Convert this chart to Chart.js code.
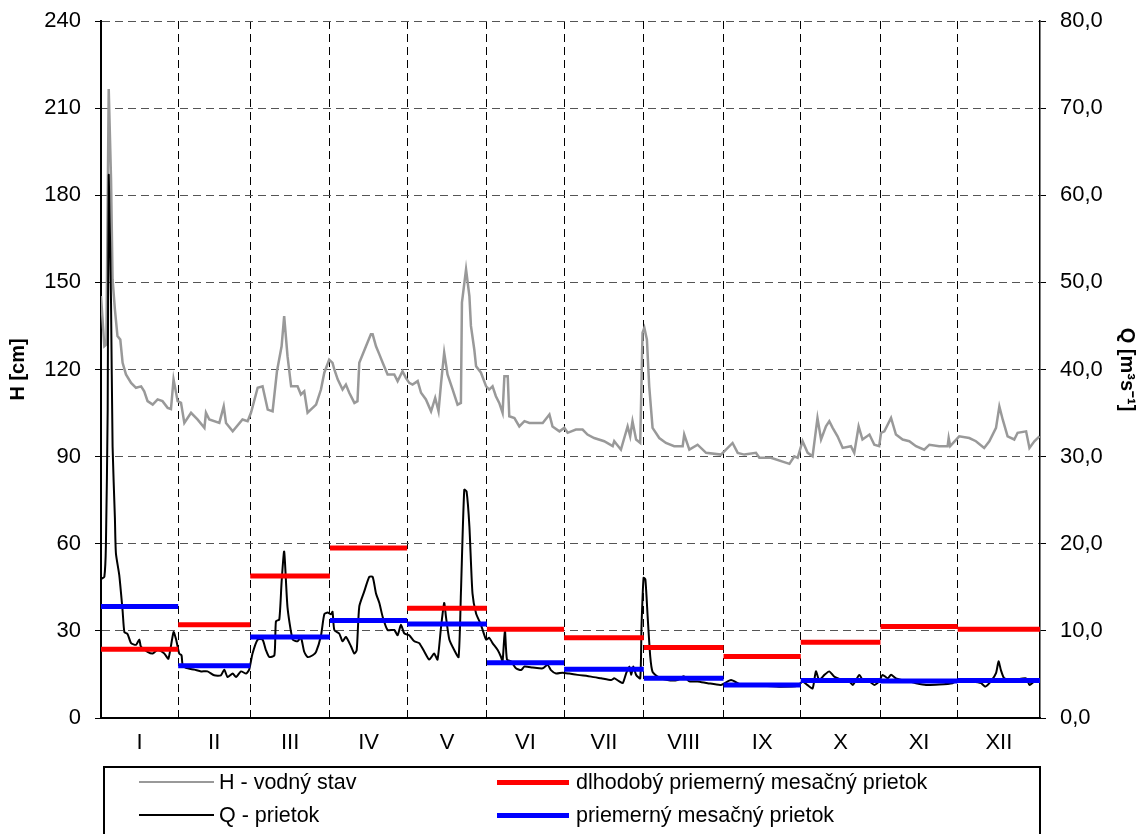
<!DOCTYPE html>
<html>
<head>
<meta charset="utf-8">
<script src="https://cdn.jsdelivr.net/npm/chart.js@4.4.1/dist/chart.umd.min.js"></script>
<style>
html, body { margin: 0; padding: 0; background: #fff; }
#wrap { position: relative; width: 1147px; height: 834px; overflow: hidden; }
#legend {
    position: absolute; left: 103px; top: 766px; width: 938px; height: 100px;
    border: 2px solid #000; box-sizing: border-box;
    font-family: 'Liberation Sans', Arial, sans-serif; font-size: 21.5px; color: #000;
}
#legend .item { position: absolute; height: 28px; display: flex; align-items: center; white-space: nowrap; }
#legend .ln { display: inline-block; }
</style>
</head>
<body>
<div id="wrap">
    <canvas id="chart" width="1147" height="834"></canvas>
    <div id="legend">
        <div class="item" style="left:34px;top:0px"><span class="ln" style="width:75px;border-top:2px solid #999;margin-right:5px"></span>H - vodný stav</div>
        <div class="item" style="left:34px;top:33px"><span class="ln" style="width:75px;border-top:2px solid #000;margin-right:5px"></span>Q - prietok</div>
        <div class="item" style="left:392px;top:0px"><span class="ln" style="width:72px;border-top:5px solid #ff0000;margin-right:7px"></span>dlhodobý priemerný mesačný prietok</div>
        <div class="item" style="left:392px;top:33px"><span class="ln" style="width:72px;border-top:5px solid #0000ff;margin-right:7px"></span>priemerný mesačný prietok</div>
    </div>
</div>
<script>
// months and their boundaries (day of year)
const months = ["I", "II", "III", "IV", "V", "VI", "VII", "VIII", "IX", "X", "XI", "XII"];
const monthBounds = [1, 31, 59, 90, 120, 151, 181, 212, 243, 273, 304, 334, 366];

// H - vodný stav [cm]
const hDays = [1.0,2.3,3.1,4.0,4.9,5.5,6.4,7.4,8.5,9.4,
    10.7,12.7,14.6,16.6,17.8,19.1,21.1,23.0,24.9,26.9,
    28.2,29.2,30.8,32.1,33.4,36.0,38.5,41.2,41.8,43.1,
    47.0,48.7,49.6,52.2,56.0,58.0,59.3,61.9,63.8,65.8,
    67.7,69.4,71.2,72.2,73.5,74.9,77.4,78.7,80.0,81.3,
    84.6,86.5,87.8,89.7,91.0,91.7,93.0,94.9,96.2,97.5,
    99.5,100.7,101.4,104.0,105.9,106.6,107.9,109.2,110.5,112.4,
    115.0,116.3,118.2,119.5,120.8,122.1,124.1,125.4,127.3,129.3,
    130.9,132.2,133.2,134.4,135.7,137.7,139.6,140.9,141.3,142.9,
    144.2,144.8,146.1,146.8,148.7,150.7,151.9,153.2,154.5,155.8,
    157.1,157.8,159.1,159.7,161.7,163.6,165.6,167.5,172.7,175.3,
    176.5,179.2,181.1,182.4,185.6,188.2,190.1,192.7,196.6,199.9,
    200.5,203.1,205.7,206.7,207.6,209.0,210.6,211.5,212.2,213.2,
    214.1,215.4,218.0,220.6,223.8,227.1,227.7,229.7,232.9,236.2,
    242.0,246.5,248.5,251.1,255.6,256.9,261.4,268.6,270.5,271.8,
    273.7,275.7,277.6,279.5,280.9,282.8,284.1,285.4,287.3,289.3,
    292.5,293.8,295.5,297.0,299.7,301.6,303.5,304.2,305.5,308.1,
    310.0,312.6,315.2,317.8,321.0,323.0,326.8,330.1,330.5,331.1,
    334.6,338.5,341.1,344.3,346.3,348.9,350.2,351.5,353.4,356.0,
    357.3,360.6,361.9,363.8,365.8];
const hValues = [145.3,128,128.6,216.6,185.5,151,140.7,131.5,130.3,122.3,
    118.3,115.4,113.7,114.2,112.5,109.1,107.9,109.7,109.1,106.8,
    106.4,116.6,109.1,108.5,101.6,105.1,102.8,99.9,105.1,102.8,
    101.6,107.3,101.6,98.7,102.8,102.2,105.1,113.7,114.2,106.2,
    105.6,119.4,128.0,138.4,124.6,114.2,114.2,111.4,112.5,105.1,
    107.9,113.1,118.9,123.4,122.3,120,116.6,113.1,114.8,112.0,
    108.5,109.1,122.3,128.0,132.1,132.1,128.0,125.2,122.3,118.3,
    118.3,116.0,119.4,117.1,115.4,114.8,116.0,112.0,109.7,105.6,
    110.2,105.6,115.4,125.8,118.3,113.1,107.9,108.5,143.0,154.5,
    145.3,135.0,126.9,121.1,118.9,114.2,113.1,114.2,110.8,108.5,
    105.1,117.7,117.7,103.9,103.3,100.4,102.2,101.6,101.6,104.5,
    100.4,98.7,99.9,98.2,99.3,99.3,97.6,96.4,95.3,93.6,
    95.3,92.4,100.4,97.0,102.2,95.9,94.7,132.7,134.4,130.3,
    114.2,99.9,96.4,94.7,93.6,93.6,97.6,92.4,94.1,91.3,
    90.7,94.7,91.3,90.7,91.3,89.6,89.6,87.5,90.1,89.6,
    95.3,91.3,90.1,103.3,95.9,100.4,102.2,99.9,97.0,93.0,
    93.6,91.3,100.4,95.9,97.6,94.1,93.6,98.2,98.7,103.3,
    97.6,95.9,95.3,93.6,92.4,94.1,93.6,93.6,96.4,93.6,
    97.0,96.4,95.3,93.0,95.3,99.9,107.3,102.8,97.0,95.9,
    98.2,98.7,93.0,95.3,97.0];

// Q - prietok [m3/s]
const qDays = [1.2,2.3,2.9,3.6,4.0,4.9,5.5,6.4,6.8,8.1,
    9.4,10.1,11.3,12.7,14.6,15.9,16.5,19.1,21.1,23.0,
    25.6,27.2,29.2,30.2,31.4,32.3,32.7,34.0,37.3,39.9,
    42.4,45.0,47.6,48.9,50.2,52.2,53.5,55.4,57.4,58.6,
    59.9,61.9,63.8,65.1,66.4,68.4,69.0,70.3,71.2,72.2,
    73.5,75.5,77.4,78.7,80.0,81.3,83.3,84.6,86.5,87.8,
    89.1,90.4,91.0,91.7,93.6,94.9,96.2,98.2,99.5,100.4,
    101.4,103.3,105.3,106.6,107.9,109.2,110.5,112.4,115.0,116.3,
    117.6,118.9,120.8,122.8,124.7,126.7,128.6,130.5,131.8,133.2,
    134.4,135.1,136.4,138.3,140.0,140.9,142.2,143.1,144.2,145.4,
    146.8,148.7,150.7,151.9,153.2,155.2,156.5,157.1,158.0,158.8,
    160.4,162.3,164.3,165.6,168.8,172.7,174.6,175.9,177.9,180.4,
    183.0,186.3,191.5,195.4,199.3,200.5,202.5,203.8,205.1,206.4,
    207.1,207.9,209.0,210.6,211.1,211.9,212.6,213.5,214.5,215.4,
    217.4,221.2,225.1,227.5,229.7,232.9,236.8,242.0,245.9,249.8,
    253.7,258.8,265.3,271.8,273.7,275.5,277.6,278.9,280.2,282.2,
    284.1,286.0,289.3,291.9,293.2,295.8,297.1,299.7,301.6,303.5,
    304.8,306.8,308.1,310.0,312.6,317.8,321.7,326.8,332.0,334.6,
    339.8,343.1,344.7,346.9,348.9,349.9,350.8,352.1,355.4,360.6,
    361.9,363.8,365.7];
const qValues = [16.0,16.2,19.7,35.4,62.3,47.7,31.2,23.0,18.9,16.4,
    12.3,9.85,9.65,8.6,8.4,9.0,8.2,7.6,7.4,7.8,
    7.4,6.8,9.85,9.0,7.4,7.2,6.15,5.75,5.55,5.35,
    5.35,4.9,4.9,5.55,4.7,5.1,4.7,5.35,5.1,5.55,
    7.4,9.0,9.0,7.8,7.0,7.2,11.1,11.3,15.6,19.1,
    12.7,9.0,8.8,9.25,7.6,7.0,7.2,7.6,9.45,11.9,
    12.1,11.9,12.2,10.1,9.7,8.8,9.3,8.2,7.4,7.8,
    12.8,14.5,16.2,16.2,14.3,13.2,11.6,10.1,10.1,9.5,
    10.7,9.7,9.5,8.8,8.6,7.6,6.7,7.4,6.7,10.5,
    13.2,11.6,9.0,7.8,7.0,14.3,26.2,26.0,22.0,14.3,
    12.0,10.7,9.0,9.2,8.6,7.8,7.0,6.5,10.1,6.7,
    6.5,5.7,5.5,5.9,5.8,5.7,6.1,5.5,5.1,5.2,
    5.1,4.95,4.75,4.55,4.35,4.55,4.2,4.0,5.1,5.9,
    4.95,5.9,4.95,4.55,10.5,16.1,15.9,11.6,7.05,5.3,
    4.75,4.35,4.35,4.8,4.2,4.2,4.0,3.8,4.35,3.8,
    3.8,3.7,3.6,3.7,4.2,3.8,3.4,5.35,4.35,4.95,
    5.35,4.75,4.35,4.2,3.8,4.95,4.35,4.2,3.8,4.2,
    4.95,4.55,4.95,4.55,4.35,4.0,3.8,3.85,4.0,4.35,
    4.2,4.0,3.6,4.2,5.15,6.5,5.5,4.55,4.35,4.55,
    3.8,4.2,4.35];

// monthly flows [m3/s]
const longTermQ = [7.9, 10.7, 16.3, 19.5, 12.6, 10.2, 9.2, 8.1, 7.05, 8.7, 10.5, 10.2];
const monthlyQ = [12.8, 6.0, 9.3, 11.2, 10.8, 6.35, 5.6, 4.55, 3.8, 4.3, 4.25, 4.3];

// helpers
const toPoints = (xs, ys) => xs.map((x, i) => ({x: x, y: ys[i]}));
const monthSteps = vals => {
    const out = [];
    vals.forEach((v, i) => {
        out.push({x: monthBounds[i], y: v});
        out.push({x: monthBounds[i + 1], y: v});
        out.push({x: monthBounds[i + 1], y: null});
    });
    return out;
};
const innerBounds = monthBounds.slice(1, -1);
const centers = months.map((m, i) => (monthBounds[i] + monthBounds[i + 1]) / 2);

Chart.defaults.font.family = "'Liberation Sans', Arial, sans-serif";
Chart.defaults.color = "#000";

new Chart(document.getElementById("chart"), {
    type: "line",
    data: {
        datasets: [
            {
                label: "priemerný mesačný prietok",
                data: monthSteps(monthlyQ),
                yAxisID: "yQ",
                borderColor: "#0000ff",
                borderWidth: 5,
                pointRadius: 0,
                spanGaps: false
            },
            {
                label: "dlhodobý priemerný mesačný prietok",
                data: monthSteps(longTermQ),
                yAxisID: "yQ",
                borderColor: "#ff0000",
                borderWidth: 5,
                pointRadius: 0,
                spanGaps: false
            },
            {
                label: "Q - prietok",
                data: toPoints(qDays, qValues),
                yAxisID: "yQ",
                borderColor: "#000",
                borderWidth: 2,
                pointRadius: 0,
                tension: 0.2
            },
            {
                label: "H - vodný stav",
                data: toPoints(hDays, hValues),
                yAxisID: "yH",
                borderColor: "#999",
                borderWidth: 2.5,
                pointRadius: 0,
                tension: 0
            }
        ]
    },
    options: {
        responsive: false,
        animation: false,
        devicePixelRatio: 1,
        layout: { padding: { top: 21, left: 0, right: 0, bottom: 0 } },
        plugins: { legend: { display: false }, tooltip: { enabled: false } },
        scales: {
            x: {
                type: "linear",
                min: 1,
                max: 366,
                afterBuildTicks: s => {
                    s.ticks = innerBounds.concat(centers).map(v => ({value: v}));
                },
                afterFit: s => { s.height = 116; s.paddingLeft = 0; s.paddingRight = 0; },
                grid: {
                    color: c => (c.tick && innerBounds.includes(c.tick.value)) ? "#000" : "rgba(0,0,0,0)",
                    lineWidth: 1,
                    drawTicks: false
                },
                border: { display: true, color: "#000", width: 2, dash: [8, 5] },
                ticks: {
                    autoSkip: false,
                    maxRotation: 0,
                    padding: 12,
                    font: { size: 22 },
                    callback: v => {
                        const i = centers.indexOf(v);
                        return i >= 0 ? months[i] : "";
                    }
                }
            },
            yH: {
                position: "left",
                min: 0,
                max: 240,
                afterFit: s => { s.width = 101; s.paddingTop = 0; s.paddingBottom = 0; },
                grid: { color: "#555", lineWidth: 1, drawTicks: true, tickLength: 6, tickColor: "#000", tickBorderDash: [] },
                border: { color: "#000", width: 2, dash: [8, 5] },
                ticks: { stepSize: 30, padding: 14, font: { size: 22 } },
                title: { display: true, text: "H [cm]", font: { size: 20, weight: "bold" }, padding: { top: 6, bottom: 0 } }
            },
            yQ: {
                position: "right",
                min: 0,
                max: 80,
                afterFit: s => { s.width = 107; s.paddingTop = 0; s.paddingBottom = 0; },
                grid: { drawOnChartArea: false, drawTicks: true, tickLength: 6, tickColor: "#000", tickBorderDash: [] },
                border: { color: "#000", width: 1.5 },
                ticks: {
                    stepSize: 10,
                    padding: 14,
                    font: { size: 22 },
                    callback: v => v.toFixed(1).replace(".", ",")
                },
                title: { display: true, text: "Q [m³s⁻¹]", font: { size: 20, weight: "bold" }, padding: { top: 8, bottom: 0 } }
            }
        }
    }
});
</script>
</body>
</html>
